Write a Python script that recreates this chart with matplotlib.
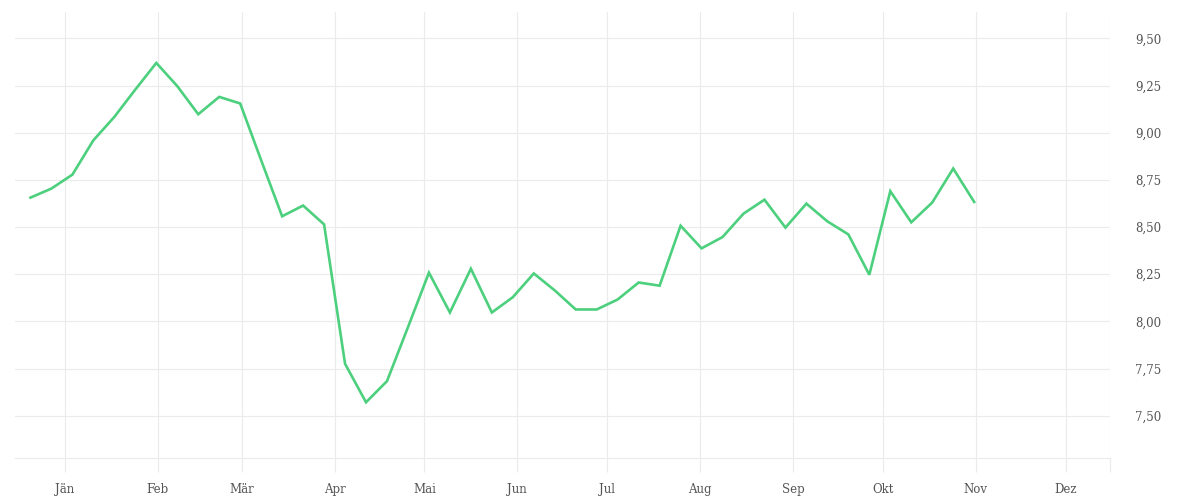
import matplotlib
matplotlib.use("Agg")
import matplotlib.pyplot as plt
import matplotlib.dates as mdates
import pandas as pd

# weekly values
START_DATE = "2020-12-20 12:00"
values = [8.656, 8.704, 8.778, 8.960, 9.084, 9.229, 9.370, 9.247, 9.098, 9.190,
          9.155, 8.854, 8.557, 8.614, 8.514, 7.775, 7.571, 7.683, 7.969, 8.258,
          8.047, 8.279, 8.047, 8.128, 8.254, 8.164, 8.063, 8.063, 8.116, 8.206,
          8.189, 8.507, 8.387, 8.447, 8.571, 8.645, 8.497, 8.624, 8.530, 8.461,
          8.247, 8.690, 8.525, 8.630, 8.810, 8.633]
month_labels = ["Jän", "Feb", "Mär", "Apr", "Mai", "Jun",
                "Jul", "Aug", "Sep", "Okt", "Nov", "Dez"]
y_ticks = [7.50, 7.75, 8.00, 8.25, 8.50, 8.75, 9.00, 9.25, 9.50]

LINE_COLOR = "#4cd07d"
GRID_COLOR = "#ebebeb"
TEXT_COLOR = "#555555"

dates = pd.date_range(START_DATE, periods=len(values), freq="7D")
month_starts = pd.date_range("2021-01-01", periods=12, freq="MS")
x_left = pd.Timestamp("2020-12-15 08:00")
x_right = pd.Timestamp("2021-12-15 20:00")

plt.rcParams["font.family"] = ["DejaVu Serif"]

fig = plt.figure(figsize=(12, 5), dpi=100)
ax = fig.add_axes([15 / 1200, 1 - 458.3 / 500, (1110 - 15) / 1200, (458.3 - 12) / 500])

ax.plot(dates, values, color=LINE_COLOR, lw=1.9, solid_joinstyle="miter", zorder=3)

ax.set_xlim(x_left, x_right)
ax.set_ylim(7.274, 9.640)

ax.set_xticks(month_starts)
ax.set_xticklabels(month_labels)
ax.set_xticks([mdates.date2num(x_right)], minor=True)
ax.set_yticks(y_ticks)
ax.set_yticklabels([f"{v:.2f}".replace(".", ",") for v in y_ticks])

ax.yaxis.tick_right()
ax.tick_params(axis="y", length=0, pad=18, labelsize=8.5, labelcolor=TEXT_COLOR)
ax.tick_params(axis="x", which="both", length=10, width=0.8, color=GRID_COLOR,
               pad=8, labelsize=8.5, labelcolor=TEXT_COLOR)
ax.grid(True, which="both", color=GRID_COLOR, lw=0.8)
ax.set_axisbelow(True)

for side in ["top", "left", "right"]:
    ax.spines[side].set_visible(False)
ax.spines["bottom"].set_color(GRID_COLOR)
ax.spines["bottom"].set_linewidth(0.8)

fig.savefig("out.png", dpi=100, facecolor="white")
